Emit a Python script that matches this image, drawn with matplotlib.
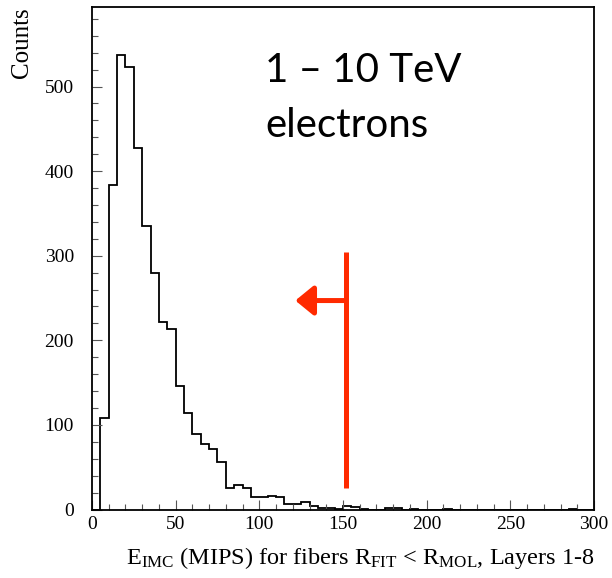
"""
E_IMC distribution for 1-10 TeV electrons (fibers R_FIT < R_MOL, layers 1-8).
Step histogram in ROOT style, saved to out.png
"""
import numpy as np
import matplotlib
matplotlib.use("Agg")
import matplotlib.pyplot as plt
from matplotlib.ticker import MultipleLocator

plt.rcParams["font.family"] = ["Liberation Serif", "DejaVu Serif"]
plt.rcParams["mathtext.fontset"] = "custom"
plt.rcParams["mathtext.rm"] = "Liberation Serif"
plt.rcParams["mathtext.it"] = "Liberation Serif:italic"

# ---- histogram data (5 MIPS bins, 0-300) ----
bin_edges = np.arange(0, 305, 5)
counts = [
    0, 108, 383, 537, 523, 427, 335, 280, 222, 213,
    146, 114, 89, 77, 71, 56, 25, 29, 25, 15,
    15, 16, 15, 7, 6, 9, 4, 2, 2, 1,
    4, 3, 1, 0, 0, 2, 2, 0, 1, 0,
    0, 0, 1, 0, 0, 0, 0, 0, 0, 0,
    0, 0, 0, 0, 0, 0, 0, 1, 0, 0,
]

# cut line at R_MOL-equivalent energy, arrow pointing to accepted side
cut_x = 152
cut_y = (25, 304)
arrow_y = 247
arrow_tip = 121.5

RED = "#FF2A00"

fig = plt.figure(figsize=(6.12, 5.78), dpi=100)
ax = fig.add_axes([0.1503, 0.1185, 0.8203, 0.8694])

ax.stairs(counts, bin_edges, color="black", lw=1.3)

ax.set_xlim(0, 300)
ax.set_ylim(0, 594)

ax.xaxis.set_major_locator(MultipleLocator(50))
ax.xaxis.set_minor_locator(MultipleLocator(10))
ax.yaxis.set_major_locator(MultipleLocator(100))
ax.yaxis.set_minor_locator(MultipleLocator(20))
ax.tick_params(which="both", direction="in", color="#555555")
ax.tick_params(which="major", length=7, width=0.8, labelsize=14)
ax.tick_params(which="minor", length=4, width=0.8)
ax.tick_params(axis="x", which="major", pad=5)
ax.tick_params(axis="y", which="major", pad=13)
for sp in ax.spines.values():
    sp.set_linewidth(1.3)

ax.set_xlabel(r"E$_{\mathrm{IMC}}$ (MIPS) for fibers R$_{\mathrm{FIT}}$ < "
              r"R$_{\mathrm{MOL}}$, Layers 1-8",
              fontsize=17.5, loc="right", labelpad=8)
ax.set_ylabel("Counts", fontsize=18, loc="top")
ax.yaxis.set_label_coords(-0.1175, 1.0)

# ---- annotations ----
ax.text(103.5, 505, "1 \u2013 10 TeV", fontsize=29, family="Lato",
        va="baseline", ha="left")
ax.text(103.5, 440, "electrons", fontsize=29, family="Lato",
        va="baseline", ha="left")

ax.plot([cut_x, cut_x], cut_y, color=RED, lw=3.6, solid_capstyle="butt")
ax.annotate("", xy=(arrow_tip, arrow_y), xytext=(cut_x, arrow_y),
            arrowprops=dict(arrowstyle="-|>,head_length=1.1,head_width=0.9",
                            color=RED, lw=3.6, shrinkA=0, shrinkB=0))

fig.savefig("out.png", dpi=100)
